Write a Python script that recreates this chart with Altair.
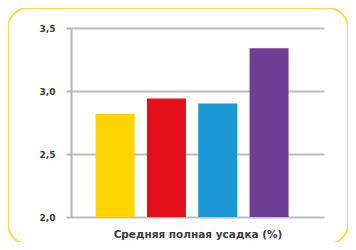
import altair as alt
import pandas as pd

categories = ["1", "2", "3", "4"]
values = [2.82, 2.94, 2.90, 3.34]
colors = ["#FFD400", "#E3101B", "#1B98D5", "#6F3D93"]
y_ticks = [2.0, 2.5, 3.0, 3.5]
y_base = 2.0
x_title = "Средняя полная усадка (%)"

df = pd.DataFrame({"cat": categories, "val": values, "color": colors})

font = "DejaVu Sans"

bars = alt.Chart(df).mark_bar().encode(
    x=alt.X("cat:N", sort=categories,
            scale=alt.Scale(paddingInner=0.24, paddingOuter=0.585, align=0.41),
            axis=alt.Axis(labels=False, ticks=False, domain=False, title=x_title,
                          titleFont=font, titleFontSize=10.5, titleFontWeight="bold",
                          titleColor="#3a3a3a", titlePadding=12)),
    y=alt.Y("val:Q", scale=alt.Scale(domain=[2.0, 3.5], nice=False, zero=False),
            axis=alt.Axis(values=y_ticks, title=None,
                          labelExpr="replace(format(datum.value, '.1f'), '.', ',')",
                          labelFont=font, labelFontSize=9, labelFontWeight="bold",
                          labelColor="#3a3a3a", labelPadding=11,
                          tickSize=5, tickColor="#b5b5b5", tickWidth=2,
                          domainColor="#b5b5b5", domainWidth=2,
                          gridColor="#bdbdbd", gridWidth=2)),
    y2=alt.datum(y_base),
    color=alt.Color("color:N", scale=None, legend=None),
)

frame = alt.Chart(pd.DataFrame({"f": [0]})).mark_rect(
    fill="transparent", stroke="#FAD94E", strokeWidth=2, cornerRadius=20
).encode(
    x=alt.value(-63), x2=alt.value(277), y=alt.value(-20), y2=alt.value(216)
)

chart = alt.layer(frame, bars).properties(
    width=253, height=189,
    autosize=alt.AutoSizeParams(type="none"),
    padding={"left": 63, "top": 20, "right": 24, "bottom": 25},
    background="white",
).configure_view(stroke=None)

chart.save("out.html", embed_options={"renderer": "svg", "actions": False})
